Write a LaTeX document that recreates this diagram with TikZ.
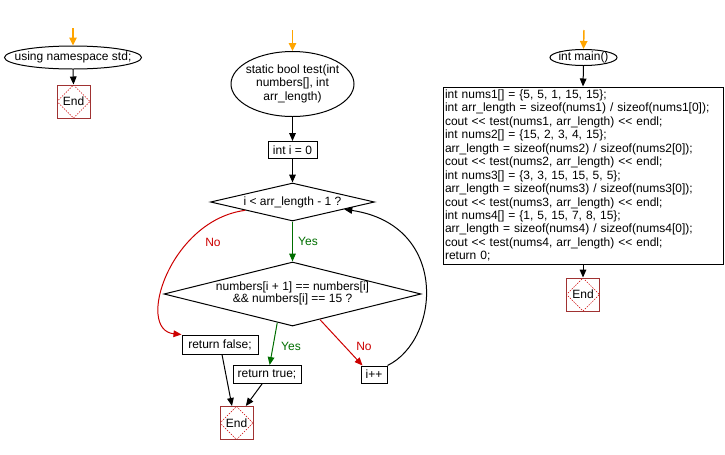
\documentclass[tikz,border=0pt]{standalone}
\usepackage{fontspec}
\setmainfont{Liberation Sans}
\usetikzlibrary{shapes.geometric,arrows.meta,calc}
\definecolor{orng}{RGB}{255,165,0}
\definecolor{grn}{RGB}{0,110,0}
\definecolor{rd}{RGB}{204,0,0}
\definecolor{endred}{RGB}{160,50,50}
\newcommand{\shl}{<{}<}
\begin{document}
\begin{tikzpicture}[x=0.75pt,y=-0.75pt,
  font=\fontsize{9}{10.1}\selectfont,
  >={Triangle[length=6pt,width=5pt]},
  conn/.style={draw=black,line width=0.75pt,->},
  startarrow/.style={draw=orng,line width=1.1pt,-{Triangle[length=6pt,width=5.5pt]}},
  yesline/.style={draw=grn,line width=0.75pt,->},
  noline/.style={draw=rd,line width=0.75pt,->},
  ell/.style={ellipse,draw,line width=0.75pt,inner sep=0pt},
  boxnode/.style={rectangle,draw,line width=0.75pt,inner sep=0pt},
  dec/.style={diamond,draw,line width=0.75pt,inner sep=0pt},
  endbox/.style={rectangle,draw=endred,line width=0.75pt,minimum size=24.75pt,inner sep=0pt,
    path picture={\draw[rd,line width=0.5pt,dash pattern=on 1pt off 1pt]
      (path picture bounding box.north) -- (path picture bounding box.east) --
      (path picture bounding box.south) -- (path picture bounding box.west) -- cycle;}},
  yeslbl/.style={text=grn,inner sep=0pt},
  nolbl/.style={text=rd,inner sep=0pt}]
\useasboundingbox (0,0) rectangle (725,454);

% left column
\coordinate (o1) at (73,28);
\node[ell,minimum width=102.75pt,minimum height=17.25pt] (ns) at (73,57.5) {\makebox[0pt]{using namespace std;}};
\node[endbox] (e1) at (73.5,101.5) {End};
\draw[startarrow] (o1) -- (ns.north);
\draw[conn] (ns.south) -- (e1.north);

% middle column
\coordinate (o2) at (292.5,30);
\node[ell,minimum width=92.25pt,minimum height=48.75pt] (fn) at (292.5,84)
  {\makebox[0pt]{\begin{tabular}{@{}c@{}}static bool test(int\\numbers[], int\\arr\_length)\end{tabular}}};
\node[boxnode,minimum width=36.75pt,minimum height=12.75pt] (init) at (292.5,150) {int i = 0};
\node[dec,minimum width=123pt,minimum height=28.5pt] (d1) at (292.5,202) {\makebox[0pt]{i < arr\_length - 1 ?}};
\node[dec,minimum width=192.75pt,minimum height=48pt] (d2) at (292.5,294)
  {\makebox[0pt]{\fontsize{9}{9.2}\selectfont\begin{tabular}{@{}c@{}}numbers[i + 1] == numbers[i]\\\&\& numbers[i] == 15 ?\end{tabular}}};
\node[boxnode,minimum width=57pt,minimum height=14.25pt] (rf) at (220,344.5) {return false;};
\node[boxnode,minimum width=51pt,minimum height=13.5pt] (rt) at (267,374.5) {return true;};
\node[boxnode,minimum width=19.5pt,minimum height=12.75pt] (ipp) at (374,374.5) {i++};
\node[endbox] (e2) at (236.5,423) {End};

\node[yeslbl] (y1) at (308,241) {Yes};
\node[nolbl] (n1) at (213,242) {No};
\node[yeslbl] (y2) at (291,346) {Yes};
\node[nolbl] (n2) at (364,346) {No};

\draw[startarrow] (o2) -- (fn.north);
\draw[conn] (fn.south) -- (init.north);
\draw[conn] (init.south) -- (d1.north);
\draw[yesline] (d1.south) -- (d2.north);
\draw[noline] (d1.190) .. controls (170,220) and (135,330) .. (rf.north west);
\draw[yesline] (d2.242) -- ([xshift=2pt]rt.north);
\draw[noline] (d2.-43) -- ([xshift=1.5pt]ipp.north west);
\draw[conn] (ipp.north east) .. controls (440,340) and (450,225) .. (d1.-8);
\draw[conn] ([xshift=1.5pt]rf.south) -- ([xshift=-3.4pt]e2.north);
\draw[conn] ([xshift=-3.75pt]rt.south) -- ([xshift=7pt]e2.north);

% right column
\coordinate (o3) at (584,30);
\node[ell,minimum width=50.25pt,minimum height=12pt] (mn) at (583.5,57.5) {\makebox[0pt]{int main()}};
\node[boxnode,minimum width=210pt,minimum height=132.75pt,text width=207pt,align=left] (code) at (583,175.5)
  {int nums1[] = \{5, 5, 1, 15, 15\};\\
   int arr\_length = sizeof(nums1) / sizeof(nums1[0]);\\
   cout \shl{} test(nums1, arr\_length) \shl{} endl;\\
   int nums2[] = \{15, 2, 3, 4, 15\};\\
   arr\_length = sizeof(nums2) / sizeof(nums2[0]);\\
   cout \shl{} test(nums2, arr\_length) \shl{} endl;\\
   int nums3[] = \{3, 3, 15, 15, 5, 5\};\\
   arr\_length = sizeof(nums3) / sizeof(nums3[0]);\\
   cout \shl{} test(nums3, arr\_length) \shl{} endl;\\
   int nums4[] = \{1, 5, 15, 7, 8, 15\};\\
   arr\_length = sizeof(nums4) / sizeof(nums4[0]);\\
   cout \shl{} test(nums4, arr\_length) \shl{} endl;\\
   return 0;};
\node[endbox] (e3) at (583,294.5) {End};
\draw[startarrow] (o3) -- (mn.north);
\draw[conn] (mn.south) -- (code.north);
\draw[conn] (code.south) -- (e3.north);
\end{tikzpicture}
\end{document}
